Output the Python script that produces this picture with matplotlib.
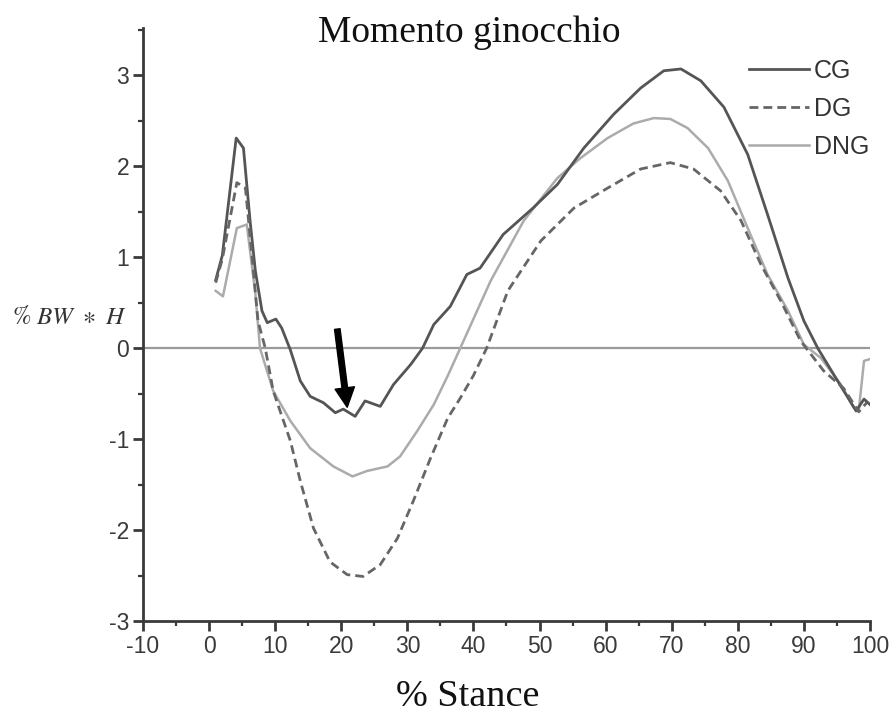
import matplotlib
matplotlib.use('agg')
import matplotlib.pyplot as plt
from matplotlib.ticker import MultipleLocator

# dati (% stance, momento in %BW*H)
cg_x = [1, 2, 4.1, 5.2, 6.2, 7.0, 8.0, 8.8, 10.1, 11, 12.3, 13.8, 15.3, 17.3, 19.1,
        20.3, 22.1, 23.6, 25.9, 27.9, 30.5, 32.3, 34, 36.5, 39, 41, 44.5, 49, 52.7,
        56.7, 61.2, 65.3, 68.8, 71.4, 74.4, 77.9, 81.5, 84.5, 87.6, 90, 92.1, 95.1,
        97.9, 99.1, 100]
cg_y = [0.75, 1.02, 2.31, 2.2, 1.4, 0.85, 0.41, 0.28, 0.32, 0.22, -0.02, -0.36, -0.53,
        -0.6, -0.71, -0.67, -0.75, -0.58, -0.64, -0.4, -0.18, 0.0, 0.26, 0.46, 0.81,
        0.88, 1.25, 1.54, 1.8, 2.2, 2.57, 2.86, 3.05, 3.07, 2.94, 2.65, 2.13, 1.47,
        0.77, 0.3, 0.0, -0.36, -0.69, -0.56, -0.62]

dg_x = [1, 2, 4.2, 5.5, 6.7, 7.4, 8.5, 9.7, 12.3, 13.8, 15.8, 18.3, 20.9, 23.3, 25.9,
        28.5, 30.9, 33.5, 36.1, 38, 40, 42, 45.2, 50.2, 55.2, 60.3, 65.3, 69.8, 73.3,
        77.4, 80.5, 83.5, 86.5, 89.5, 93, 96, 97.6, 98.3, 99.5]
dg_y = [0.72, 0.98, 1.82, 1.76, 0.85, 0.3, 0.0, -0.47, -1.02, -1.46, -1.98, -2.35,
        -2.49, -2.51, -2.38, -2.09, -1.68, -1.21, -0.77, -0.55, -0.3, 0.0, 0.63, 1.18,
        1.54, 1.76, 1.97, 2.04, 1.97, 1.73, 1.4, 0.92, 0.52, 0.08, -0.25, -0.44, -0.62,
        -0.7, -0.6]

dng_x = [1, 2.1, 4.2, 5.7, 7.0, 7.7, 9.7, 12.3, 15.3, 18.8, 21.7, 23.9, 27, 28.9, 31.5,
         34, 36.2, 38, 42.6, 47.6, 52.7, 56.2, 60.3, 64.2, 67.3, 69.8, 72.4, 75.5, 78.5,
         81.5, 84.5, 87.6, 90, 92.6, 95.6, 97.6, 98.3, 99.1, 100]
dng_y = [0.63, 0.57, 1.32, 1.36, 0.6, 0.0, -0.47, -0.8, -1.1, -1.3, -1.41, -1.35, -1.3,
         -1.19, -0.91, -0.62, -0.29, 0.0, 0.74, 1.4, 1.87, 2.09, 2.31, 2.47, 2.53, 2.52,
         2.42, 2.2, 1.84, 1.32, 0.81, 0.41, 0.04, -0.11, -0.4, -0.66, -0.69, -0.14, -0.12]

# freccia sul minimo del CG
arrow_tail = (19.4, 0.21)
arrow_tip = (20.9, -0.65)

plt.rcParams['mathtext.fontset'] = 'stix'
plt.rcParams['axes.unicode_minus'] = False

fig = plt.figure(figsize=(8.91, 7.13), dpi=100)
ax = fig.add_axes([0.1605, 0.129, 0.8159, 0.8317])

ax.axhline(0, color='#9a9a9a', lw=1.6, zorder=1)
ax.plot(cg_x, cg_y, color='#555555', lw=2.0, label='CG', zorder=3)
ax.plot(dg_x, dg_y, color='#666666', lw=2.0, ls=(0, (3.2, 1.8)), label='DG', zorder=3)
ax.plot(dng_x, dng_y, color='#ababab', lw=1.8, label='DNG', zorder=2)

ax.annotate('', xy=arrow_tip, xytext=arrow_tail,
            arrowprops=dict(facecolor='black', edgecolor='black',
                            width=4, headwidth=14, headlength=14, shrink=0))

ax.set_xlim(-10, 100)
ax.set_ylim(-3, 3.52)
ax.xaxis.set_major_locator(MultipleLocator(10))
ax.xaxis.set_minor_locator(MultipleLocator(5))
ax.yaxis.set_major_locator(MultipleLocator(1))
ax.yaxis.set_minor_locator(MultipleLocator(0.5))

for s in ['top', 'right']:
    ax.spines[s].set_visible(False)
for s in ['left', 'bottom']:
    ax.spines[s].set_color('#3a3a3a')
    ax.spines[s].set_linewidth(2)

ax.tick_params(which='major', direction='out', length=7, width=2, color='#3a3a3a',
               labelsize=16.5, labelcolor='#3a3a3a', pad=3)
ax.tick_params(which='minor', direction='out', length=3.5, width=1.6, color='#3a3a3a')
for lab in ax.get_xticklabels() + ax.get_yticklabels():
    lab.set_family('Liberation Sans')

leg = ax.legend(loc='upper left', bbox_to_anchor=(749 / 891, 1 - 59 / 713),
                bbox_transform=fig.transFigure, frameon=False, fontsize=18,
                handlelength=2.4, handletextpad=0.2, labelspacing=0.55,
                borderpad=0, borderaxespad=0)
for t in leg.get_texts():
    t.set_family('Liberation Sans')
    t.set_color('#333333')

fig.text(0.527, 1 - 42 / 713, 'Momento ginocchio', family='Liberation Serif',
         fontsize=27, ha='center', va='baseline', color='#111111')
fig.text(0.525, 1 - 706 / 713, '% Stance', family='Liberation Serif',
         fontsize=27.5, ha='center', va='baseline', color='#111111')
fig.text(12 / 891, 1 - 324 / 713, r'$\%\ BW\ \ast\ H$', fontsize=18,
         ha='left', va='baseline', color='#333333')

fig.savefig('out.png', dpi=100)
